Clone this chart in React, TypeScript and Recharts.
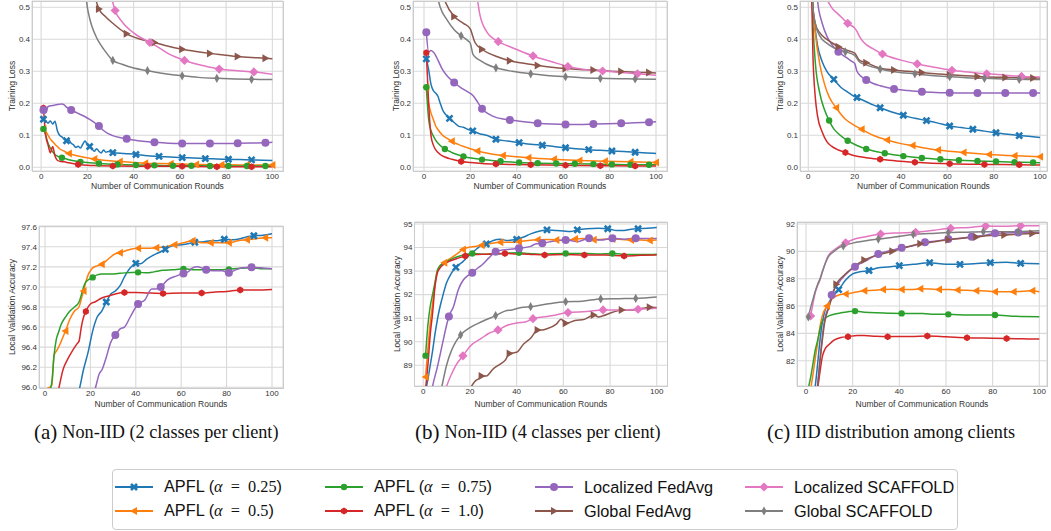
import React from "react";
import { LineChart, Line, XAxis, YAxis, CartesianGrid, Label } from "recharts";

type Pt = [number, number];

// ---- (a) Non-IID, 2 classes: training loss ----
const aLoss25: Pt[] = [[1,0.15],[2,0.145],[3,0.138],[4,0.145],[5,0.135],[6,0.144],[7,0.115],[8,0.1],[9,0.095],[10,0.088],[11,0.083],[12,0.085],[13,0.075],[14,0.07],[15,0.062],[16,0.066],[17,0.06],[18,0.072],[19,0.082],[20,0.07],[21,0.065],[22,0.058],[23,0.05],[24,0.058],[25,0.05],[26,0.045],[27,0.054],[28,0.047],[29,0.049],[31,0.046],[36,0.043],[41,0.04],[46,0.036],[51,0.034],[56,0.032],[61,0.03],[66,0.029],[71,0.027],[76,0.026],[81,0.025],[86,0.024],[91,0.023],[96,0.022],[100,0.021]];
const aLoss50: Pt[] = [[1,0.12],[2,0.112],[3,0.1],[4,0.088],[5,0.08],[6,0.072],[7,0.065],[8,0.058],[10,0.05],[12,0.043],[15,0.037],[18,0.032],[23,0.026],[28,0.021],[34,0.018],[40,0.015],[45,0.013],[56,0.011],[67,0.009],[78,0.008],[89,0.007],[100,0.007]];
const aLoss75: Pt[] = [[1,0.12],[2,0.1],[3,0.075],[4,0.06],[5,0.048],[6,0.04],[7,0.035],[9,0.03],[11,0.026],[13,0.022],[17,0.017],[21,0.014],[25,0.012],[33,0.009],[41,0.007],[49,0.006],[57,0.005],[65,0.005],[73,0.004],[81,0.004],[89,0.004],[97,0.004],[100,0.004]];
const aLoss100: Pt[] = [[1,0.185],[2,0.1],[3,0.07],[4,0.045],[5,0.065],[6,0.035],[7,0.022],[8,0.019],[10,0.017],[12,0.014],[16,0.009],[20,0.006],[25,0.005],[31,0.004],[46,0.003],[61,0.003],[76,0.002],[91,0.002],[100,0.002]];
const aLossLocAvg: Pt[] = [[1,0.179],[2,0.17],[3,0.19],[4,0.192],[5,0.193],[6,0.195],[7,0.196],[8,0.197],[9,0.198],[10,0.195],[11,0.188],[13,0.179],[15,0.172],[17,0.165],[19,0.158],[21,0.15],[23,0.14],[25,0.129],[27,0.115],[29,0.105],[31,0.099],[34,0.093],[37,0.089],[43,0.082],[49,0.078],[55,0.075],[61,0.074],[67,0.074],[73,0.074],[79,0.074],[85,0.075],[91,0.076],[97,0.077],[100,0.078]];
const aLossGlobAvg: Pt[] = [[1,3],[13,1.0],[19,0.65],[22,0.56],[24,0.515],[25,0.495],[28,0.47],[31,0.45],[37,0.417],[43,0.4],[49,0.39],[55,0.378],[61,0.369],[67,0.362],[73,0.356],[79,0.351],[85,0.346],[91,0.343],[97,0.341],[100,0.339]];
const aLossLocSc: Pt[] = [[2,3],[17,1.0],[27,0.62],[30,0.54],[31,0.515],[32,0.49],[35,0.455],[40,0.42],[47,0.39],[50,0.378],[55,0.355],[62,0.334],[70,0.318],[77,0.307],[85,0.302],[92,0.298],[100,0.291]];
const aLossGlobSc: Pt[] = [[1,2.5],[16,0.75],[19,0.56],[20,0.5],[21,0.465],[22,0.44],[24,0.405],[26,0.38],[28,0.36],[31,0.334],[35,0.322],[40,0.31],[46,0.302],[53,0.293],[61,0.286],[68,0.281],[76,0.278],[84,0.276],[91,0.275],[100,0.274]];

// ---- (a) accuracy ----
const aAcc25: Pt[] = [[1,94.5],[10,95.5],[14,95.9],[15,95.97],[17,96.18],[19,96.35],[21,96.56],[23,96.7],[25,96.76],[27,96.85],[29,96.93],[31,96.96],[33,97.01],[35,97.1],[38,97.2],[40,97.235],[42,97.23],[45,97.28],[48,97.32],[50,97.34],[53,97.375],[56,97.41],[60,97.42],[63,97.43],[66,97.445],[70,97.45],[73,97.46],[76,97.46],[79,97.475],[83,97.47],[86,97.48],[89,97.5],[92,97.51],[96,97.515],[100,97.53]];
const aAcc50: Pt[] = [[1,95.99],[2,96.0],[3,96.02],[4,96.32],[5,96.36],[6,96.4],[7,96.45],[9,96.56],[11,96.68],[13,96.76],[15,96.8],[16,96.88],[17,96.96],[18,97.05],[19,97.12],[20,97.16],[21,97.19],[23,97.21],[25,97.225],[27,97.26],[29,97.3],[31,97.33],[33,97.34],[37,97.37],[41,97.385],[45,97.385],[49,97.39],[53,97.4],[57,97.42],[61,97.44],[65,97.46],[69,97.44],[73,97.44],[77,97.44],[81,97.44],[85,97.46],[89,97.47],[93,97.48],[97,97.49],[100,97.49]];
const aAcc75: Pt[] = [[1,95.9],[3,96.05],[4,96.32],[5,96.48],[6,96.55],[7,96.62],[9,96.7],[11,96.76],[13,96.8],[15,96.85],[16,96.92],[17,97.0],[18,97.05],[19,97.07],[21,97.095],[23,97.12],[25,97.13],[30,97.13],[35,97.14],[41,97.145],[45,97.14],[48,97.15],[52,97.165],[56,97.17],[61,97.18],[66,97.17],[71,97.17],[76,97.17],[81,97.175],[86,97.185],[91,97.19],[96,97.18],[100,97.18]];
const aAcc100: Pt[] = [[1,95.5],[6,95.98],[8,96.18],[10,96.28],[12,96.36],[14,96.43],[15,96.46],[16,96.6],[17,96.7],[18,96.755],[20,96.83],[22,96.85],[25,96.89],[28,96.91],[31,96.93],[35,96.945],[40,96.945],[45,96.94],[52,96.935],[60,96.94],[69,96.94],[75,96.95],[80,96.955],[86,96.97],[93,96.97],[100,96.975]];
const aAccLocAvg: Pt[] = [[1,94.5],[20,95.9],[22,95.98],[24,96.14],[25,96.17],[27,96.3],[29,96.45],[31,96.52],[33,96.58],[35,96.6],[38,96.72],[41,96.83],[44,96.87],[47,96.98],[49,96.98],[51,97.0],[54,97.07],[58,97.11],[61,97.135],[63,97.15],[65,97.19],[67,97.2],[69,97.19],[71,97.17],[74,97.16],[78,97.16],[81,97.14],[84,97.17],[87,97.19],[91,97.195],[95,97.19],[100,97.18]];

// ---- (b) Non-IID, 4 classes: training loss ----
const bLoss25: Pt[] = [[1,0.339],[2,0.305],[3,0.26],[4,0.24],[5,0.232],[6,0.222],[7,0.2],[8,0.18],[9,0.168],[10,0.16],[11,0.153],[13,0.14],[15,0.128],[17,0.125],[19,0.118],[21,0.114],[24,0.105],[27,0.1],[31,0.0875],[36,0.082],[41,0.077],[46,0.072],[51,0.069],[56,0.065],[61,0.061],[66,0.058],[71,0.055],[76,0.053],[81,0.051],[86,0.049],[91,0.047],[96,0.045],[100,0.043]];
const bLoss50: Pt[] = [[1,0.25],[2,0.2],[3,0.17],[4,0.15],[5,0.13],[6,0.118],[8,0.1],[10,0.09],[12,0.081],[15,0.071],[18,0.063],[23,0.051],[28,0.043],[34,0.037],[40,0.033],[45,0.03],[56,0.025],[67,0.021],[78,0.019],[89,0.017],[100,0.015]];
const bLoss75: Pt[] = [[1,0.25],[2,0.15],[3,0.115],[4,0.098],[5,0.085],[7,0.068],[9,0.057],[11,0.05],[13,0.043],[17,0.034],[21,0.028],[25,0.024],[33,0.019],[41,0.015],[49,0.013],[57,0.012],[65,0.011],[73,0.01],[81,0.009],[89,0.008],[97,0.008],[100,0.008]];
const bLoss100: Pt[] = [[1,0.358],[2,0.2],[3,0.1],[4,0.07],[5,0.055],[7,0.04],[9,0.032],[12,0.025],[16,0.018],[20,0.015],[25,0.012],[31,0.01],[46,0.008],[61,0.006],[76,0.005],[91,0.004],[100,0.004]];
const bLossLocAvg: Pt[] = [[1,0.422],[2,0.36],[3,0.365],[4,0.36],[5,0.35],[6,0.335],[8,0.305],[10,0.285],[13,0.265],[16,0.248],[19,0.235],[21,0.225],[23,0.205],[25,0.183],[28,0.166],[31,0.156],[34,0.151],[37,0.148],[43,0.142],[49,0.1375],[55,0.135],[61,0.134],[67,0.134],[73,0.135],[79,0.136],[85,0.1375],[91,0.139],[97,0.141],[100,0.142]];
const bLossGlobAvg: Pt[] = [[1,0.9],[5,0.62],[9,0.52],[13,0.471],[17,0.45],[20,0.432],[21,0.41],[22,0.39],[25,0.369],[28,0.356],[31,0.347],[37,0.333],[43,0.325],[49,0.318],[55,0.313],[61,0.309],[67,0.306],[73,0.304],[79,0.301],[85,0.299],[91,0.297],[97,0.296],[100,0.295]];
const bLossLocSc: Pt[] = [[2,1.5],[17,0.8],[22,0.58],[24,0.48],[27,0.424],[32,0.393],[36,0.38],[40,0.368],[47,0.348],[55,0.33],[62,0.315],[70,0.305],[77,0.301],[85,0.296],[92,0.292],[100,0.288]];
const bLossGlobSc: Pt[] = [[1,0.8],[4,0.6],[7,0.5],[10,0.46],[13,0.43],[16,0.411],[19,0.395],[20,0.387],[21,0.355],[22,0.345],[24,0.335],[27,0.322],[31,0.311],[38,0.3],[46,0.292],[53,0.287],[61,0.283],[68,0.28],[76,0.278],[84,0.277],[91,0.276],[100,0.275]];

// ---- (b) accuracy ----
const bAcc25: Pt[] = [[1,87.9],[2,88.4],[3,89.0],[4,89.6],[5,90.3],[6,90.9],[7,91.4],[8,91.8],[10,92.5],[12,92.9],[14,93.16],[17,93.4],[20,93.7],[23,93.95],[25,94.1],[27,94.15],[30,94.3],[33,94.35],[36,94.3],[40,94.35],[43,94.45],[46,94.58],[50,94.7],[53,94.75],[57,94.72],[60,94.7],[63,94.68],[66,94.75],[70,94.8],[75,94.82],[79,94.8],[83,94.72],[86,94.72],[89,94.78],[92,94.8],[96,94.82],[100,94.85]];
const bAcc50: Pt[] = [[1,88.5],[2,89.7],[3,90.8],[4,91.6],[5,92.4],[6,93.0],[7,93.2],[9,93.35],[11,93.5],[14,93.7],[17,93.92],[20,94.02],[22,94.04],[25,94.1],[29,94.17],[33,94.23],[37,94.22],[41,94.25],[45,94.3],[49,94.33],[53,94.34],[57,94.32],[61,94.3],[65,94.36],[69,94.38],[73,94.33],[77,94.35],[81,94.36],[85,94.34],[89,94.32],[93,94.32],[97,94.3],[100,94.32]];
const bAcc75: Pt[] = [[1,89.41],[2,90.7],[3,91.5],[4,92.0],[5,92.5],[6,93.0],[7,93.2],[8,93.3],[10,93.4],[13,93.55],[16,93.65],[18,93.7],[21,93.75],[25,93.72],[30,93.72],[35,93.76],[41,93.78],[45,93.75],[50,93.72],[55,93.74],[61,93.75],[65,93.75],[70,93.75],[75,93.73],[81,93.75],[85,93.72],[90,93.7],[95,93.7],[100,93.72]];
const bAcc100: Pt[] = [[1,88.0],[2,89.0],[3,90.3],[4,91.2],[5,92.3],[6,92.9],[7,93.1],[9,93.3],[12,93.45],[15,93.55],[18,93.64],[22,93.7],[27,93.72],[31,93.74],[35,93.75],[40,93.73],[45,93.72],[52,93.68],[60,93.7],[69,93.68],[78,93.68],[86,93.64],[93,93.67],[100,93.68]];
const bAccLocAvg: Pt[] = [[1,86.0],[4,88.1],[6,88.9],[8,89.8],[10,90.7],[11,91.07],[13,91.5],[15,92.2],[17,92.6],[19,92.8],[21,92.93],[23,93.1],[25,93.25],[28,93.55],[31,93.82],[33,93.88],[36,93.92],[41,93.97],[46,94.05],[48,94.15],[51,94.18],[56,94.28],[61,94.32],[64,94.28],[66,94.25],[71,94.39],[76,94.32],[81,94.39],[86,94.35],[91,94.39],[95,94.38],[100,94.38]];
const bAccGlobAvg: Pt[] = [[1,84.0],[20,88.0],[22,88.3],[24,88.45],[25,88.55],[27,88.55],[30,88.85],[33,89.05],[35,89.2],[37,89.5],[40,89.55],[43,89.9],[46,90.15],[49,90.5],[51,90.5],[53,90.55],[57,90.75],[59,90.95],[61,90.78],[65,90.9],[69,90.95],[71,91.05],[73,91.14],[75,91.05],[77,91.1],[81,91.25],[85,91.35],[90,91.35],[94,91.42],[97,91.46],[100,91.45]];
const bAccLocSc: Pt[] = [[2,84.0],[10,88.1],[12,88.6],[14,89.0],[17,89.4],[20,89.8],[25,90.15],[28,90.35],[32,90.5],[36,90.7],[40,90.8],[44,90.85],[47,90.98],[51,91.05],[55,91.1],[62,91.24],[70,91.28],[77,91.35],[85,91.35],[92,91.38],[100,91.42]];
const bAccGlobSc: Pt[] = [[1,84.0],[8,88.1],[10,89.0],[12,89.6],[14,90.0],[16,90.29],[20,90.6],[25,90.85],[31,91.11],[35,91.3],[38,91.35],[42,91.45],[46,91.49],[53,91.6],[61,91.7],[68,91.72],[76,91.82],[84,91.83],[91,91.84],[100,91.9]];

// ---- (c) IID: training loss ----
const cLoss25: Pt[] = [[1,0.7],[2,0.5],[3,0.43],[4,0.38],[6,0.33],[8,0.3],[11,0.275],[14,0.25],[17,0.235],[19,0.225],[21,0.218],[25,0.205],[28,0.195],[31,0.186],[36,0.173],[41,0.1625],[46,0.153],[51,0.146],[56,0.138],[61,0.129],[66,0.124],[71,0.119],[76,0.113],[81,0.108],[86,0.103],[91,0.099],[96,0.096],[100,0.093]];
const cLoss50: Pt[] = [[1,0.7],[2,0.5],[3,0.42],[5,0.32],[7,0.26],[9,0.22],[12,0.186],[16,0.15],[19,0.135],[23,0.119],[28,0.1],[34,0.085],[40,0.074],[45,0.068],[50,0.06],[56,0.054],[67,0.046],[78,0.04],[89,0.036],[100,0.033]];
const cLoss75: Pt[] = [[1,0.7],[2,0.45],[3,0.33],[5,0.23],[7,0.18],[9,0.146],[11,0.12],[13,0.105],[17,0.083],[21,0.068],[25,0.057],[33,0.044],[41,0.035],[49,0.029],[57,0.025],[65,0.022],[73,0.02],[81,0.018],[89,0.016],[97,0.015],[100,0.014]];
const cLoss100: Pt[] = [[1,0.7],[2,0.35],[3,0.22],[4,0.16],[6,0.11],[8,0.08],[10,0.066],[13,0.054],[16,0.046],[20,0.036],[25,0.03],[31,0.025],[38,0.02],[46,0.016],[61,0.011],[76,0.009],[91,0.008],[100,0.007]];
const cLossLocAvg: Pt[] = [[1,0.9],[4,0.52],[6,0.45],[8,0.41],[10,0.385],[13,0.361],[16,0.345],[19,0.33],[20,0.325],[21,0.3],[23,0.283],[25,0.273],[28,0.262],[31,0.255],[37,0.245],[43,0.24],[49,0.236],[55,0.234],[61,0.233],[73,0.232],[85,0.232],[97,0.232],[100,0.232]];
const cLossGlobAvg: Pt[] = [[1,0.7],[2,0.5],[3,0.45],[5,0.42],[8,0.4],[10,0.39],[13,0.377],[17,0.365],[20,0.357],[22,0.335],[25,0.327],[30,0.312],[37,0.304],[43,0.3],[49,0.296],[55,0.292],[61,0.289],[73,0.284],[85,0.281],[97,0.279],[100,0.279]];
const cLossLocSc: Pt[] = [[2,0.8],[5,0.6],[10,0.5],[13,0.478],[17,0.45],[20,0.435],[21,0.425],[22,0.41],[24,0.39],[28,0.37],[32,0.354],[40,0.335],[47,0.323],[55,0.312],[62,0.303],[70,0.297],[77,0.292],[85,0.288],[92,0.284],[100,0.282]];
const cLossGlobSc: Pt[] = [[1,0.7],[2,0.5],[3,0.45],[5,0.41],[8,0.388],[11,0.373],[16,0.361],[20,0.35],[22,0.33],[25,0.32],[31,0.307],[38,0.298],[46,0.292],[53,0.287],[61,0.283],[68,0.28],[76,0.278],[84,0.276],[91,0.275],[100,0.274]];

// ---- (c) accuracy ----
const cAcc25: Pt[] = [[1,78],[4,80.2],[5,81.8],[6,83.5],[7,84.8],[8,85.6],[10,86.3],[12,86.8],[14,87.2],[17,87.9],[20,88.35],[23,88.5],[27,88.6],[31,88.8],[35,88.85],[40,88.95],[46,89.05],[53,89.17],[60,89.05],[66,89.05],[72,89.1],[79,89.17],[86,89.2],[92,89.12],[100,89.1]];
const cAcc50: Pt[] = [[1,79],[3,81.0],[4,82.2],[5,83.3],[6,84.5],[7,85.3],[9,86.0],[11,86.5],[14,86.8],[17,86.88],[21,87.0],[25,87.12],[29,87.15],[33,87.2],[37,87.22],[41,87.2],[45,87.2],[49,87.27],[53,87.25],[57,87.2],[61,87.2],[65,87.17],[69,87.15],[73,87.12],[77,87.1],[81,87.05],[85,87.05],[89,87.05],[93,87.08],[97,87.12],[100,87.05]];
const cAcc75: Pt[] = [[1,80.0],[2,80.8],[3,81.8],[4,82.8],[5,83.5],[6,84.3],[7,84.9],[9,85.2],[12,85.4],[15,85.5],[18,85.58],[21,85.63],[25,85.55],[30,85.5],[35,85.48],[41,85.46],[50,85.45],[55,85.4],[61,85.39],[70,85.35],[81,85.34],[90,85.25],[100,85.22]];
const cAcc100: Pt[] = [[1,78],[5,80.0],[6,81.2],[7,82.3],[8,82.8],[10,83.2],[12,83.5],[15,83.7],[18,83.76],[22,83.85],[25,83.85],[30,83.78],[35,83.76],[40,83.77],[45,83.77],[52,83.8],[60,83.75],[69,83.68],[80,83.65],[86,83.63],[93,83.6],[100,83.58]];
const cAccLocAvg: Pt[] = [[1,77],[5,80.2],[6,82.0],[7,83.8],[8,85.0],[10,86.1],[11,86.8],[14,87.7],[17,88.3],[21,88.88],[26,89.35],[31,89.8],[36,90.05],[41,90.27],[46,90.4],[51,90.66],[56,90.75],[61,90.9],[66,90.95],[71,91.07],[76,91.15],[81,91.32],[86,91.35],[91,91.37],[100,91.38]];
const cAccGlobAvg: Pt[] = [[1,77],[5,80.2],[6,82.0],[7,83.5],[8,84.8],[10,86.0],[13,87.6],[16,88.2],[20,88.8],[25,89.37],[30,89.7],[37,90.0],[43,90.3],[49,90.55],[55,90.7],[61,90.85],[67,90.95],[73,91.05],[79,91.15],[85,91.2],[91,91.25],[97,91.3],[100,91.32]];
const cAccLocSc: Pt[] = [[2,85.27],[3,86.2],[4,87.0],[5,87.5],[6,87.9],[7,88.5],[8,89.0],[9,89.5],[10,89.8],[12,90.1],[14,90.35],[17,90.63],[20,90.85],[25,91.05],[32,91.27],[40,91.35],[47,91.39],[55,91.55],[62,91.68],[70,91.75],[77,91.85],[85,91.83],[92,91.88],[100,91.88]];
const cAccGlobSc: Pt[] = [[1,85.2],[2,85.9],[3,86.5],[4,87.1],[5,87.6],[6,88.0],[7,88.5],[8,89.0],[9,89.4],[10,89.7],[12,90.0],[14,90.25],[16,90.39],[20,90.6],[25,90.75],[31,90.9],[38,91.05],[46,91.24],[53,91.3],[61,91.37],[68,91.4],[76,91.44],[84,91.44],[91,91.44],[100,91.5]];

const X_TICKS = [0, 20, 40, 60, 80, 100];
const LOSS_TICKS = [0, 0.1, 0.2, 0.3, 0.4, 0.5];
const ACC_A_TICKS = [96.0, 96.2, 96.4, 96.6, 96.8, 97.0, 97.2, 97.4, 97.6];
const ACC_B_TICKS = [89, 90, 91, 92, 93, 94, 95];
const ACC_C_TICKS = [82, 84, 86, 88, 90, 92];

type Shape = "x" | "tl" | "dot" | "hex" | "circle" | "tr" | "diamond" | "thin";

interface SeriesStyle {
  color: string;
  shape: Shape;
  strideTop: number;
  strideBottom: number;
  start: number;
}

// order: APFL .25, .5, .75, 1.0, Localized FedAvg, Global FedAvg, Localized SCAFFOLD, Global SCAFFOLD
const STYLES: SeriesStyle[] = [
  { color: "#1f77b4", shape: "x", strideTop: 10, strideBottom: 13, start: 1 },
  { color: "#ff7f0e", shape: "tl", strideTop: 11, strideBottom: 8, start: 1 },
  { color: "#2ca02c", shape: "dot", strideTop: 8, strideBottom: 20, start: 1 },
  { color: "#d62728", shape: "hex", strideTop: 15, strideBottom: 17, start: 1 },
  { color: "#9467bd", shape: "circle", strideTop: 12, strideBottom: 10, start: 1 },
  { color: "#8c564b", shape: "tr", strideTop: 12, strideBottom: 12, start: 1 },
  { color: "#e377c2", shape: "diamond", strideTop: 15, strideBottom: 15, start: 2 },
  { color: "#7f7f7f", shape: "thin", strideTop: 15, strideBottom: 15, start: 1 },
];

function Marker({ shape, x, y, color }: { shape: Shape; x: number; y: number; color: string }) {
  switch (shape) {
    case "x":
      return (
        <path
          d={`M${x - 3},${y - 3}L${x + 3},${y + 3}M${x - 3},${y + 3}L${x + 3},${y - 3}`}
          stroke={color}
          strokeWidth={2.6}
          fill="none"
        />
      );
    case "tl":
      return <polygon points={`${x - 4},${y} ${x + 3},${y - 4} ${x + 3},${y + 4}`} fill={color} />;
    case "tr":
      return <polygon points={`${x + 4},${y} ${x - 3},${y - 4} ${x - 3},${y + 4}`} fill={color} />;
    case "dot":
      return <circle cx={x} cy={y} r={3.2} fill={color} />;
    case "hex": {
      const pts = [0, 1, 2, 3, 4, 5]
        .map((i) => {
          const a = (Math.PI / 3) * i + Math.PI / 6;
          return `${x + 3.5 * Math.cos(a)},${y + 3.5 * Math.sin(a)}`;
        })
        .join(" ");
      return <polygon points={pts} fill={color} />;
    }
    case "circle":
      return <circle cx={x} cy={y} r={4} fill={color} />;
    case "diamond":
      return <polygon points={`${x},${y - 4.6} ${x + 4.6},${y} ${x},${y + 4.6} ${x - 4.6},${y}`} fill={color} />;
    case "thin":
      return <polygon points={`${x},${y - 4.6} ${x + 2.6},${y} ${x},${y + 4.6} ${x - 2.6},${y}`} fill={color} />;
  }
}

interface PanelCfg {
  left: number;
  top: number;
  width: number;
  height: number;
  xDomain: [number, number];
  yDomain: [number, number];
  yTicks: number[];
  fmt: (v: number) => string;
  yLabel: string;
  labelX: number;
  xAxisH: number;
  bottomRow: boolean;
  series: Pt[][];
}

const fixed1 = (v: number) => v.toFixed(1);
const plain = (v: number) => String(v);

const PANELS: PanelCfg[] = [
  {
    left: 32, top: 1, width: 251, height: 170, xDomain: [-3.94, 104.6], yDomain: [-0.0116, 0.5197],
    yTicks: LOSS_TICKS, fmt: fixed1, yLabel: "Training Loss", labelX: 12, xAxisH: 18, bottomRow: false,
    series: [aLoss25, aLoss50, aLoss75, aLoss100, aLossLocAvg, aLossGlobAvg, aLossLocSc, aLossGlobSc],
  },
  {
    left: 413, top: 1, width: 254, height: 170, xDomain: [-4.74, 104.74], yDomain: [-0.0116, 0.5197],
    yTicks: LOSS_TICKS, fmt: fixed1, yLabel: "Training Loss", labelX: 396, xAxisH: 18, bottomRow: false,
    series: [bLoss25, bLoss50, bLoss75, bLoss100, bLossLocAvg, bLossGlobAvg, bLossLocSc, bLossGlobSc],
  },
  {
    left: 800, top: 1, width: 247, height: 170, xDomain: [-3.58, 103.0], yDomain: [-0.0116, 0.5197],
    yTicks: LOSS_TICKS, fmt: fixed1, yLabel: "Training Loss", labelX: 780, xAxisH: 18, bottomRow: false,
    series: [cLoss25, cLoss50, cLoss75, cLoss100, cLossLocAvg, cLossGlobAvg, cLossLocSc, cLossGlobSc],
  },
  {
    left: 39, top: 226, width: 244, height: 162, xDomain: [-2.64, 104.85], yDomain: [95.993, 97.607],
    yTicks: ACC_A_TICKS, fmt: fixed1, yLabel: "Local Validation Accuracy", labelX: 12, xAxisH: 19, bottomRow: true,
    series: [aAcc25, aAcc50, aAcc75, aAcc100, aAccLocAvg],
  },
  {
    left: 414, top: 222, width: 253, height: 164, xDomain: [-3.73, 104.6], yDomain: [88.12, 95.085],
    yTicks: ACC_B_TICKS, fmt: plain, yLabel: "Local Validation Accuracy", labelX: 396.5, xAxisH: 21, bottomRow: true,
    series: [bAcc25, bAcc50, bAcc75, bAcc100, bAccLocAvg, bAccGlobAvg, bAccLocSc, bAccGlobSc],
  },
  {
    left: 797, top: 222, width: 250, height: 164, xDomain: [-3.86, 103.3], yDomain: [80.15, 92.146],
    yTicks: ACC_C_TICKS, fmt: plain, yLabel: "Local Validation Accuracy", labelX: 780, xAxisH: 21, bottomRow: true,
    series: [cAcc25, cAcc50, cAcc75, cAcc100, cAccLocAvg, cAccGlobAvg, cAccLocSc, cAccGlobSc],
  },
];

const SANS = "'Liberation Sans', Arial, sans-serif";
const SERIF = "'Liberation Serif', 'Times New Roman', serif";
const TICK = { fontSize: 8, fill: "#333", fontFamily: SANS };
const EXTRA = 6; // room under the x label so descenders are not clipped

function Panel({ p }: { p: PanelCfg }) {
  const chartLeft = p.labelX - 6;
  const yW = p.left - chartLeft;
  const pad = 4;
  const w = yW + p.width + pad;
  const h = pad + p.height + p.xAxisH + EXTRA;
  return (
    <div style={{ position: "absolute", left: chartLeft, top: p.top - pad }}>
      <LineChart width={w} height={h} margin={{ top: pad, right: pad, bottom: 0, left: 0 }}>
        <CartesianGrid stroke="#d9d9d9" strokeWidth={1.1} />
        <XAxis
          type="number"
          dataKey="x"
          domain={p.xDomain}
          ticks={X_TICKS}
          allowDataOverflow
          tickLine={false}
          axisLine={false}
          tickSize={0}
          tickMargin={2.5}
          height={p.xAxisH + EXTRA}
          tick={TICK}
          interval={0}
        >
          <Label
            value="Number of Communication Rounds"
            position="insideBottom"
            offset={EXTRA}
            style={{ fontSize: 8.5, fill: "#333", fontFamily: SANS }}
          />
        </XAxis>
        <YAxis
          type="number"
          domain={p.yDomain}
          ticks={p.yTicks}
          tickFormatter={p.fmt}
          allowDataOverflow
          width={yW}
          tickLine={false}
          axisLine={false}
          tickSize={0}
          tickMargin={2}
          tick={TICK}
          interval={0}
        >
          <Label
            value={p.yLabel}
            angle={-90}
            position="insideLeft"
            offset={6}
            style={{ textAnchor: "middle", fontSize: 8.5, fill: "#333", fontFamily: SANS }}
          />
        </YAxis>
        {p.series.map((pts, i) => {
          const st = STYLES[i];
          const stride = p.bottomRow ? st.strideBottom : st.strideTop;
          return (
            <Line
              key={`s${i}`}
              data={pts.map(([x, y]) => ({ x, y }))}
              dataKey="y"
              type="monotone"
              stroke={st.color}
              strokeWidth={1.5}
              activeDot={false}
              isAnimationActive={false}
              dot={(d: any) => {
                const px = d.payload.x as number;
                const py = d.payload.y as number;
                const show =
                  px >= st.start &&
                  (px - st.start) % stride === 0 &&
                  py >= p.yDomain[0] &&
                  py <= p.yDomain[1];
                if (!show || d.cx == null || d.cy == null) return <g key={`d${i}-${d.index}`} />;
                return (
                  <g key={`d${i}-${d.index}`}>
                    <Marker shape={st.shape} x={d.cx} y={d.cy} color={st.color} />
                  </g>
                );
              }}
            />
          );
        })}
      </LineChart>
      <div
        style={{
          position: "absolute",
          left: yW - 0.5,
          top: pad - 0.5,
          width: p.width + 1,
          height: p.height + 1,
          border: "1.2px solid #cccccc",
          boxSizing: "border-box",
          pointerEvents: "none",
        }}
      />
    </div>
  );
}

const CAPTIONS = [
  { left: 34, tag: "(a)", text: "Non-IID (2 classes per client)" },
  { left: 415, tag: "(b)", text: "Non-IID (4 classes per client)" },
  { left: 767, tag: "(c)", text: "IID distribution among clients" },
];

const LEGEND_ITEMS: { label: string; alpha?: string }[] = [
  { label: "APFL", alpha: "0.25" },
  { label: "APFL", alpha: "0.5" },
  { label: "APFL", alpha: "0.75" },
  { label: "APFL", alpha: "1.0" },
  { label: "Localized FedAvg" },
  { label: "Global FedAvg" },
  { label: "Localized SCAFFOLD" },
  { label: "Global SCAFFOLD" },
];

function LegendBox() {
  return (
    <div
      style={{
        position: "absolute",
        left: 112,
        top: 469,
        width: 846,
        height: 61,
        border: "1px solid #cccccc",
        borderRadius: 4,
        boxSizing: "border-box",
        background: "#fff",
      }}
    >
      {LEGEND_ITEMS.map((it, i) => {
        const col = Math.floor(i / 2);
        const row = i % 2;
        const st = STYLES[i];
        return (
          <div
            key={i}
            style={{
              position: "absolute",
              left: 1 + col * 210,
              top: 6 + row * 24,
              height: 22,
              display: "flex",
              alignItems: "center",
              whiteSpace: "nowrap",
            }}
          >
            <svg width={40} height={14} style={{ display: "block" }}>
              <line x1={1} y1={7} x2={39} y2={7} stroke={st.color} strokeWidth={2.2} />
              <Marker shape={st.shape} x={20} y={7} color={st.color} />
            </svg>
            <span style={{ marginLeft: 10, fontFamily: SANS, fontSize: 16.3, color: "#111" }}>
              {it.label}
              {it.alpha && (
                <>
                  {" ("}
                  <span style={{ fontFamily: SERIF, fontStyle: "italic" }}>α</span>
                  <span style={{ fontFamily: SERIF }}>{`\u2002=\u2002${it.alpha}`}</span>
                  {")"}
                </>
              )}
            </span>
          </div>
        );
      })}
    </div>
  );
}

export default function App() {
  return (
    <div
      style={{
        position: "absolute",
        left: 0,
        top: 0,
        width: 1051,
        height: 531,
        background: "#fff",
        overflow: "hidden",
      }}
    >
      {PANELS.map((p, i) => (
        <Panel key={i} p={p} />
      ))}
      {CAPTIONS.map((c) => (
        <div
          key={c.tag}
          style={{
            position: "absolute",
            left: c.left,
            top: 417,
            fontFamily: SERIF,
            color: "#111",
            whiteSpace: "nowrap",
            display: "flex",
            alignItems: "center",
            height: 30,
          }}
        >
          <span style={{ fontSize: 21 }}>{c.tag}</span>
          <span style={{ fontSize: 18.2, marginLeft: 5 }}>{c.text}</span>
        </div>
      ))}
      <LegendBox />
    </div>
  );
}
